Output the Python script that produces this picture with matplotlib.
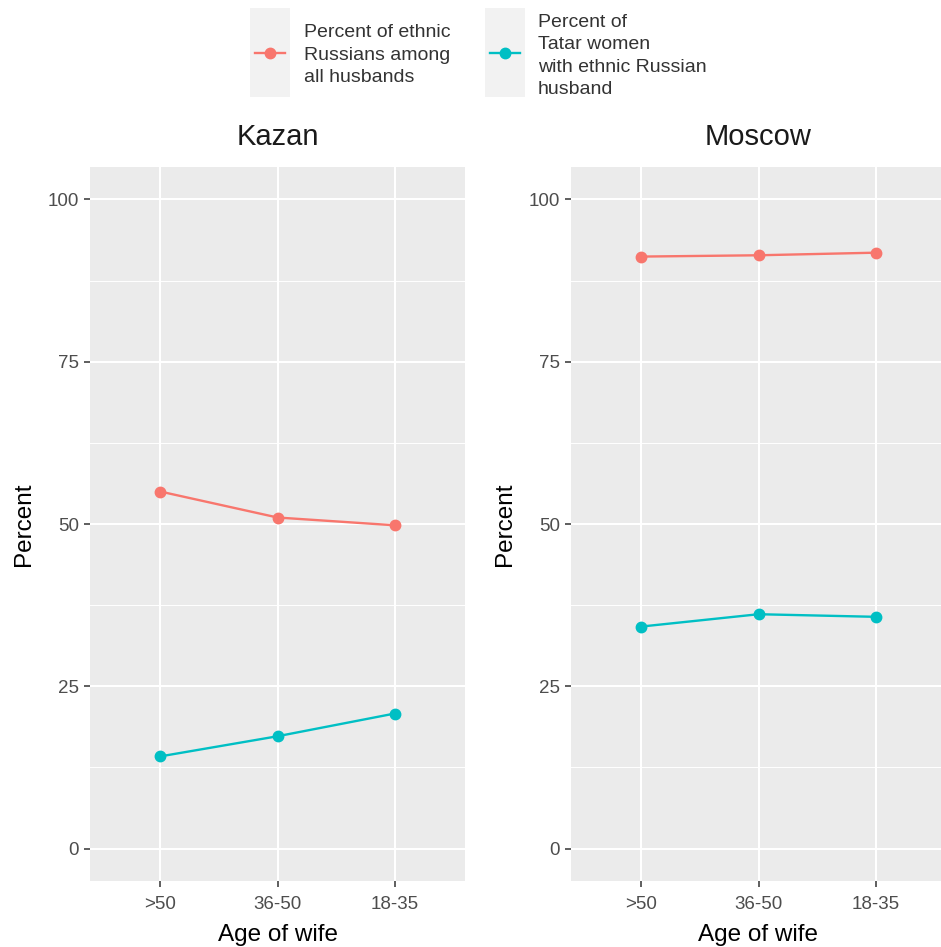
import matplotlib
matplotlib.use("Agg")
import matplotlib.pyplot as plt
from matplotlib.lines import Line2D
from matplotlib.patches import Rectangle

# data
ages = [">50", "36-50", "18-35"]
cities = ["Kazan", "Moscow"]
russian_husbands = {"Kazan": [55.0, 51.0, 49.8], "Moscow": [91.2, 91.4, 91.8]}
tatar_women = {"Kazan": [14.2, 17.3, 20.8], "Moscow": [34.2, 36.1, 35.7]}
series_labels = ["Percent of ethnic\nRussians among\nall husbands",
                 "Percent of\nTatar women\nwith ethnic Russian\nhusband"]
red = "#F8766D"
teal = "#00BFC4"

plt.rcParams["font.family"] = ["Liberation Sans", "DejaVu Sans"]

W, H = 941, 947
fig = plt.figure(figsize=(W / 100, H / 100), dpi=100)
fig.patch.set_facecolor("white")

def px(x0, y0, x1, y1):
    # figure-pixel box -> axes rect
    return [x0 / W, 1 - y1 / H, (x1 - x0) / W, (y1 - y0) / H]

panels = [px(90, 167, 465, 881), px(571, 167, 946, 881)]
xpos = list(range(len(ages)))

for city, rect in zip(cities, panels):
    ax = fig.add_axes(rect)
    ax.set_facecolor("#EBEBEB")
    for s in ax.spines.values():
        s.set_visible(False)
    ax.plot(xpos, russian_husbands[city], color=red, lw=1.7, marker="o", ms=7.5, zorder=3)
    ax.plot(xpos, tatar_women[city], color=teal, lw=1.7, marker="o", ms=7.5, zorder=3)
    ax.set_xlim(-0.6, len(ages) - 0.4)
    ax.set_ylim(-5, 105)
    ax.set_yticks([0, 25, 50, 75, 100])
    ax.set_yticks([12.5, 37.5, 62.5, 87.5], minor=True)
    ax.set_xticks(xpos)
    ax.set_xticklabels(ages)
    ax.grid(which="major", color="white", lw=1.5, zorder=0)
    ax.grid(which="minor", axis="y", color="white", lw=0.7, zorder=0)
    ax.set_axisbelow(True)
    ax.tick_params(which="major", length=4, width=1.1, color="#333333",
                   labelcolor="#4D4D4D", labelsize=13.5, pad=4)
    ax.tick_params(axis="x", which="major", pad=7)
    ax.tick_params(which="minor", length=0)
    ax.set_xlabel("Age of wife", fontsize=17.5, color="black", labelpad=8)
    ax.set_ylabel("Percent", fontsize=17.5, color="black", labelpad=9)
    ax.set_title(city, fontsize=21, color="#1A1A1A", pad=16)

# legend on top, drawn by hand
keys = [(250, 290, 304, red, series_labels[0], 55),
        (485, 525, 538, teal, series_labels[1], 56)]
for x0, x1, tx, col, lab, ty in keys:
    fig.add_artist(Rectangle((x0 / W, 1 - 97 / H), (x1 - x0) / W, 89 / H,
                             transform=fig.transFigure, facecolor="#F2F2F2",
                             edgecolor="none"))
    fig.add_artist(Line2D([(x0 + 5) / W, (x1 - 5) / W], [1 - 53 / H] * 2,
                          transform=fig.transFigure, color=col, lw=1.7))
    fig.add_artist(Line2D([(x0 + x1) / 2 / W], [1 - 53 / H],
                          transform=fig.transFigure, color=col, marker="o", ms=7.5))
    fig.text(tx / W, 1 - ty / H, lab, fontsize=14, color="#333333",
             va="center", ha="left", linespacing=1.4)

fig.savefig("out.png", dpi=100)
